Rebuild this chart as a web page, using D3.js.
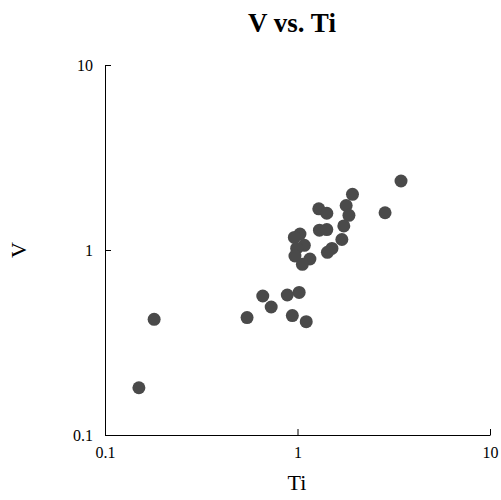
<!DOCTYPE html>
<html>
<head>
<meta charset="utf-8">
<script src="https://cdn.jsdelivr.net/npm/d3@7"></script>
<style>
  body { margin: 0; background: #fff; }
  text { font-family: "Liberation Serif", "Times New Roman", serif; }
</style>
</head>
<body>
<script>
// Ti values (x) and V values (y)
const ti = [3.45, 1.93, 1.79, 1.29, 1.42, 1.85, 2.85, 1.74, 1.30, 1.42,
            1.03, 0.963, 1.70, 1.085, 0.99, 1.51, 1.43, 0.97, 1.16, 1.06,
            1.02, 0.885, 0.66, 0.73, 0.547, 0.94, 1.11, 0.18, 0.15];
const v  = [2.36, 2.0, 1.74, 1.67, 1.58, 1.54, 1.59, 1.35, 1.28, 1.29,
            1.22, 1.17, 1.14, 1.06, 1.02, 1.02, 0.972, 0.928, 0.894, 0.837,
            0.59, 0.571, 0.564, 0.492, 0.431, 0.442, 0.41, 0.422, 0.18];
const tickVals = [0.1, 1, 10];
const tickLabels = ["0.1", "1", "10"];

const width = 501, height = 500;
const margin = {top: 65, right: 11, bottom: 65, left: 105};

const svg = d3.select('body').append('svg')
    .attr('width', width)
    .attr('height', height);

const x = d3.scaleLog().domain([0.1, 10]).range([margin.left, width - margin.right]);
const y = d3.scaleLog().domain([0.1, 10]).range([height - margin.bottom, margin.top]);

// title
svg.append('text')
    .attr('x', 292)
    .attr('y', 32)
    .attr('text-anchor', 'middle')
    .style('font-size', '27px')
    .style('font-weight', 'bold')
    .text('V vs. Ti');

// x axis, ticks pointing inward
const xAxis = svg.append('g')
    .attr('transform', 'translate(0,' + (height - margin.bottom) + ')')
    .call(d3.axisBottom(x).tickValues(tickVals)
        .tickFormat((d, i) => tickLabels[i])
        .tickSizeInner(-6).tickSizeOuter(0).tickPadding(12));

const yAxis = svg.append('g')
    .attr('transform', 'translate(' + margin.left + ',0)')
    .call(d3.axisLeft(y).tickValues(tickVals)
        .tickFormat((d, i) => tickLabels[i])
        .tickSizeInner(-6).tickSizeOuter(0).tickPadding(12));

[xAxis, yAxis].forEach(function(g) {
    g.selectAll('text')
        .style('font-family', '"Liberation Serif", "Times New Roman", serif')
        .style('font-size', '16px')
        .attr('fill', '#000');
    g.selectAll('line, path').attr('stroke', '#000');
});

// axis titles
svg.append('text')
    .attr('x', 297)
    .attr('y', 490)
    .attr('text-anchor', 'middle')
    .style('font-size', '22px')
    .text('Ti');

svg.append('text')
    .attr('transform', 'translate(26,250) rotate(-90)')
    .attr('text-anchor', 'middle')
    .style('font-size', '22px')
    .text('V');

// points
svg.append('g').selectAll('circle')
    .data(ti)
    .enter().append('circle')
    .attr('cx', function(d) { return x(d); })
    .attr('cy', function(d, i) { return y(v[i]); })
    .attr('r', 6.5)
    .attr('fill', '#4a4a4a');
</script>
</body>
</html>
